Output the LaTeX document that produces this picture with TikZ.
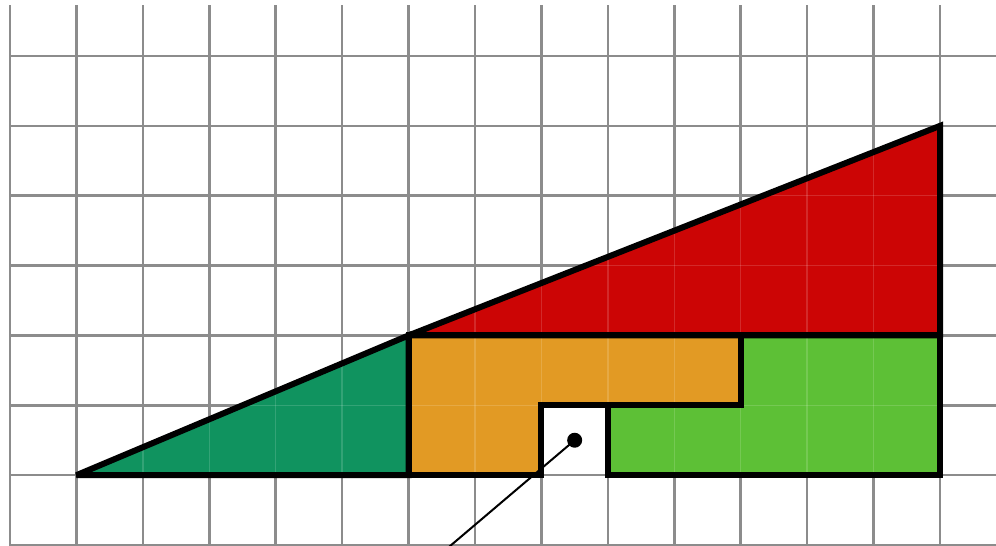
\documentclass[tikz,border=0pt]{standalone}
\begin{document}
\begin{tikzpicture}[x=66.43pt,y=-69.86pt,
  gridline/.style={draw=black!45,line width=2.6pt},
  piece/.style={draw=black,line width=6pt,line join=miter,miter limit=4},
  faint/.style={draw=white,opacity=0.15,line width=1.5pt}]
\definecolor{cred}{HTML}{CC0505}
\definecolor{cdgreen}{HTML}{10935F}
\definecolor{corange}{HTML}{E29A24}
\definecolor{clgreen}{HTML}{5DC036}
% bounding box: 996 x 546 px, grid origin at pixel (10,56)
\useasboundingbox (-0.15054,-0.80160) rectangle (14.84270,7.01403);
\fill[white] (-0.15054,-0.80160) rectangle (14.84270,7.01403);
% grid
\foreach \i in {0,...,14} \draw[gridline] (\i,-0.7300) -- (\i,7.02);
\foreach \j in {0,...,7} \draw[gridline] (0,\j) -- (14.85,\j);
% pieces
\fill[cdgreen] (1,6) -- (6,4) -- (6,6) -- cycle;
\fill[cred] (6,4) -- (14,1) -- (14,4) -- cycle;
\fill[corange] (6,4) -- (11,4) -- (11,5) -- (8,5) -- (8,6) -- (6,6) -- cycle;
\fill[clgreen] (9,5) -- (11,5) -- (11,4) -- (14,4) -- (14,6) -- (9,6) -- cycle;
% faint grid inside pieces
\begin{scope}
\clip (1,6) -- (6,4) -- (14,1) -- (14,6) -- cycle;
\foreach \i in {2,...,13} \draw[faint] (\i,0) -- (\i,6);
\foreach \j in {2,...,5} \draw[faint] (0,\j) -- (14,\j);
\end{scope}
% outlines
\draw[piece] (1,6) -- (6,4) -- (6,6) -- cycle;
\draw[piece] (6,4) -- (14,1) -- (14,4) -- cycle;
\draw[piece] (6,4) -- (11,4) -- (11,5) -- (8,5) -- (8,6) -- (6,6) -- cycle;
\draw[piece] (9,5) -- (11,5) -- (11,4) -- (14,4) -- (14,6) -- (9,6) -- cycle;
% pointer to the missing square
\node[circle,fill=black,inner sep=0pt,minimum size=15pt] (dot) at (8.5,5.5) {};
\coordinate (tail) at (6.58,7.05);
\draw[line width=2pt] (dot.center) -- (tail);
\end{tikzpicture}
\end{document}
